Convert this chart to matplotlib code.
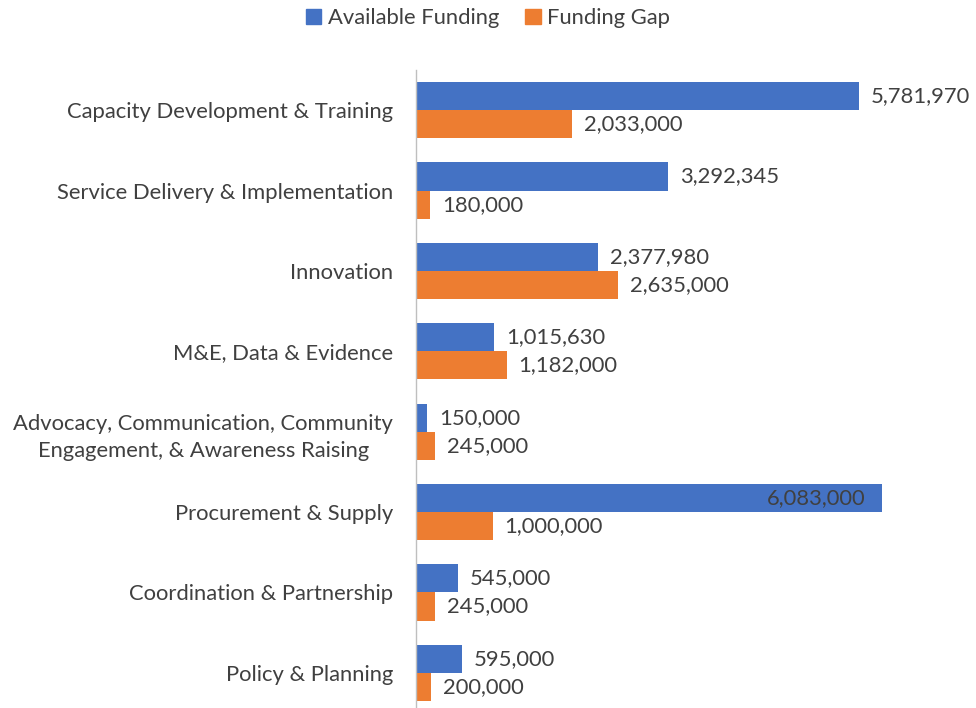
import matplotlib
matplotlib.use("Agg")
import matplotlib.pyplot as plt
import numpy as np
from matplotlib.patches import Patch

categories = [
    "Capacity Development & Training",
    "Service Delivery & Implementation",
    "Innovation",
    "M&E, Data & Evidence",
    "Advocacy, Communication, Community\nEngagement, & Awareness Raising",
    "Procurement & Supply",
    "Coordination & Partnership",
    "Policy & Planning",
]
available = [5781970, 3292345, 2377980, 1015630, 150000, 6083000, 545000, 595000]
gap = [2033000, 180000, 2635000, 1182000, 245000, 1000000, 245000, 200000]

BLUE = "#4472C4"
ORANGE = "#ED7D31"
TXT = "#404040"

plt.rcParams['font.family'] = ['Lato', 'DejaVu Sans']

W, H = 976, 708
fig = plt.figure(figsize=(W / 100, H / 100), dpi=100)
ax_top, ax_bot = 70, 713
ax = fig.add_axes([416 / W, (H - ax_bot) / H, (W - 416) / W, (ax_bot - ax_top) / H])

n = len(categories)
y = np.arange(n)[::-1]
h = 0.35
ax.barh(y + h / 2, available, height=h, color=BLUE)
ax.barh(y - h / 2, gap, height=h, color=ORANGE)

xmax = (W - 416) / 466 * 6083000
ax.set_xlim(0, xmax)
ax.set_ylim(-0.5, n - 0.5)

fs = 15.8
px = xmax / (W - 416)
vmax = max(available)
for yi, v in zip(y, available):
    if v == vmax:
        ax.text(v - 16 * px, yi + h / 2, f"{v:,}", ha='right', va='center', fontsize=fs, color=TXT)
    else:
        ax.text(v + 12 * px, yi + h / 2, f"{v:,}", ha='left', va='center', fontsize=fs, color=TXT)
for yi, v in zip(y, gap):
    ax.text(v + 12 * px, yi - h / 2, f"{v:,}", ha='left', va='center', fontsize=fs, color=TXT)

ax.set_yticks(y)
ax.set_yticklabels(categories, fontsize=fs, color=TXT, multialignment='center', linespacing=1.45)
ax.tick_params(axis='y', length=0, pad=16.5)
ax.set_xticks([])
for s in ['top', 'right', 'bottom']:
    ax.spines[s].set_visible(False)
ax.spines['left'].set_color('#BFBFBF')
ax.spines['left'].set_linewidth(1.0)

handles = [Patch(color=BLUE, label="Available Funding"), Patch(color=ORANGE, label="Funding Gap")]
fig.legend(handles=handles, loc='center', bbox_to_anchor=(0.5, 1 - 18 / H), ncol=2,
           frameon=False, fontsize=fs, handlelength=0.7, handleheight=0.7,
           handletextpad=0.3, columnspacing=1.2, labelcolor=TXT)

fig.savefig("out.png", dpi=100)
